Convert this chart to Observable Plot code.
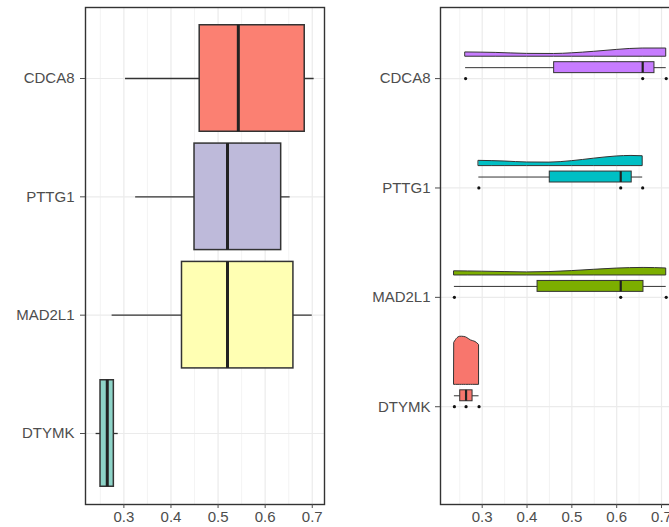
<!DOCTYPE html>
<html><head><meta charset="utf-8">
<script src="https://cdn.jsdelivr.net/npm/d3@7"></script>
<script src="https://cdn.jsdelivr.net/npm/@observablehq/plot@0.6"></script>
<style>
html,body{margin:0;padding:0;overflow:hidden;background:#fff;width:669px;height:527px;}
#wrap{position:relative;width:669px;height:527px;overflow:hidden;}
#left{position:absolute;left:0;top:0;width:340px;height:527px;}
#right{position:absolute;left:340px;top:0;width:345px;height:527px;}
#wrap svg{max-width:none !important;}
</style></head><body><div id="wrap"><div id="left"></div><div id="right"></div></div>
<script>
// ---- shared categories / ticks ----
const genes = ["CDCA8", "PTTG1", "MAD2L1", "DTYMK"];
const geneIndex = [4, 3, 2, 1];
const xTicks = [0.3, 0.4, 0.5, 0.6, 0.7];
const xMinorTicks = [0.25, 0.35, 0.45, 0.55, 0.65];

// ---- left panel: box summaries ----
const leftMin    = [0.3035, 0.325, 0.275, 0.241];
const leftQ1     = [0.461, 0.450, 0.4234, 0.2504];
const leftMedian = [0.543, 0.520, 0.520, 0.2647];
const leftQ3     = [0.684, 0.634, 0.660, 0.2787];
const leftMax    = [0.704, 0.653, 0.700, 0.288];
const leftFill   = ["#FB8072", "#BEBADA", "#FFFFB3", "#8DD3C7"];

// ---- right panel: raw points, violin profiles ----
const pointsCDCA8  = [0.263, 0.658, 0.7105];
const pointsPTTG1  = [0.2925, 0.609, 0.658];
const pointsMAD2L1 = [0.238, 0.609, 0.7105];
const pointsDTYMK  = [0.238, 0.264, 0.293];
const rightFill = ["#C77CFF", "#00BFC4", "#7CAE00", "#F8766D"];

const violinXCDCA8  = [0.263, 0.33, 0.40, 0.46, 0.50, 0.55, 0.60, 0.658, 0.7105];
const violinHCDCA8  = [0.039, 0.035, 0.026, 0.025, 0.031, 0.045, 0.062, 0.075, 0.075];
const violinXPTTG1  = [0.2925, 0.35, 0.40, 0.45, 0.50, 0.55, 0.60, 0.633, 0.658];
const violinHPTTG1  = [0.048, 0.042, 0.033, 0.032, 0.045, 0.068, 0.088, 0.093, 0.090];
const violinXMAD2L1 = [0.238, 0.30, 0.35, 0.40, 0.45, 0.50, 0.55, 0.60, 0.66, 0.7105];
const violinHMAD2L1 = [0.038, 0.035, 0.031, 0.028, 0.031, 0.040, 0.052, 0.063, 0.069, 0.064];
const violinXDTYMK  = [0.238, 0.245, 0.25, 0.255, 0.26, 0.264, 0.27, 0.275, 0.28, 0.285, 0.293];
const violinHDTYMK  = [0.387, 0.427, 0.439, 0.44, 0.438, 0.434, 0.419, 0.406, 0.399, 0.392, 0.365];

// ---- build tables ----
const font = "'Liberation Sans', Arial, Helvetica, sans-serif";
const labelOf = i => genes[geneIndex.indexOf(i)];
const BOX_HALF_LEFT = 0.45;
const NUDGE_BOX = 0.1, BOX_HALF = 0.05, NUDGE_VIOLIN = 0.2;

const leftData = genes.map((g, i) => ({
  gene: g, idx: geneIndex[i], min: leftMin[i], q1: leftQ1[i], median: leftMedian[i],
  q3: leftQ3[i], max: leftMax[i], fill: leftFill[i]
}));

const rightPoints = [pointsCDCA8, pointsPTTG1, pointsMAD2L1, pointsDTYMK];
const rightStats = genes.map((g, i) => {
  const p = rightPoints[i].slice().sort(d3.ascending);
  return {gene: g, idx: geneIndex[i], min: p[0], q1: d3.quantile(p, 0.25),
    median: d3.quantile(p, 0.5), q3: d3.quantile(p, 0.75), max: p[p.length - 1], fill: rightFill[i]};
});
const rightDots = genes.flatMap((g, i) => rightPoints[i].map(v => ({idx: geneIndex[i], v})));
const violinX = [violinXCDCA8, violinXPTTG1, violinXMAD2L1, violinXDTYMK];
const violinH = [violinHCDCA8, violinHPTTG1, violinHMAD2L1, violinHDTYMK];
const violinData = genes.flatMap((g, i) => violinX[i].map((x, j) => ({
  gene: g, idx: geneIndex[i], x, h: violinH[i][j], fill: rightFill[i]
})));

const gridMarks = () => [
  Plot.ruleX(xMinorTicks, {stroke: "#F0F0F0", strokeWidth: 0.8}),
  Plot.ruleX(xTicks, {stroke: "#EBEBEB", strokeWidth: 1.2}),
  Plot.ruleY(geneIndex, {stroke: "#EBEBEB", strokeWidth: 1.2})
];

const baseStyle = {fontFamily: font, fontSize: "15px", color: "#4D4D4D", background: "transparent",
  overflow: "visible", maxWidth: "none"};

const left = Plot.plot({
  width: 340, height: 527,
  marginLeft: 85, marginRight: 16, marginTop: 7, marginBottom: 23,
  style: baseStyle,
  x: {domain: [0.2185, 0.726]},
  y: {domain: [0.4, 4.6]},
  color: {type: "identity"},
  marks: [
    ...gridMarks(),
    Plot.ruleY(leftData, {y: "idx", x1: "min", x2: "max", stroke: "#333", strokeWidth: 1.3}),
    Plot.rect(leftData, {x1: "q1", x2: "q3", y1: d => d.idx - BOX_HALF_LEFT, y2: d => d.idx + BOX_HALF_LEFT,
      fill: "fill", stroke: "#333", strokeWidth: 1.5}),
    Plot.ruleX(leftData, {x: "median", y1: d => d.idx - BOX_HALF_LEFT, y2: d => d.idx + BOX_HALF_LEFT,
      stroke: "#222", strokeWidth: 3}),
    Plot.frame({stroke: "#333", strokeWidth: 1.4}),
    Plot.axisX({ticks: xTicks, tickSize: 4, tickPadding: 3, tickFormat: d3.format(".1f"), label: null}),
    Plot.axisY({ticks: geneIndex, tickSize: 5, tickPadding: 6, tickFormat: labelOf, label: null})
  ]
});
document.getElementById("left").appendChild(left);

const right = Plot.plot({
  width: 345, height: 527,
  marginLeft: 100, marginRight: 5.6, marginTop: 7, marginBottom: 23,
  style: baseStyle,
  x: {domain: [0.207, 0.741]},
  y: {domain: [0.106, 4.65]},
  color: {type: "identity"},
  marks: [
    ...gridMarks(),
    Plot.areaY(violinData, {x: "x", y1: d => d.idx + NUDGE_VIOLIN, y2: d => d.idx + NUDGE_VIOLIN + d.h,
      z: "gene", fill: "fill", stroke: "#333", strokeWidth: 1, curve: "monotone-x"}),
    Plot.ruleY(rightStats, {y: d => d.idx + NUDGE_BOX, x1: "min", x2: "max", stroke: "#333", strokeWidth: 1}),
    Plot.rect(rightStats, {x1: "q1", x2: "q3", y1: d => d.idx + NUDGE_BOX - BOX_HALF, y2: d => d.idx + NUDGE_BOX + BOX_HALF,
      fill: "fill", stroke: "#333", strokeWidth: 1}),
    Plot.ruleX(rightStats, {x: "median", y1: d => d.idx + NUDGE_BOX - BOX_HALF, y2: d => d.idx + NUDGE_BOX + BOX_HALF,
      stroke: "#222", strokeWidth: 2.2}),
    Plot.dot(rightDots, {x: "v", y: "idx", r: 1.6, fill: "#111", stroke: "none"}),
    Plot.frame({stroke: "#333", strokeWidth: 1.4}),
    Plot.axisX({ticks: xTicks, tickSize: 4, tickPadding: 3, tickFormat: d3.format(".1f"), label: null}),
    Plot.axisY({ticks: geneIndex, tickSize: 5, tickPadding: 5, tickFormat: labelOf, label: null})
  ]
});
document.getElementById("right").appendChild(right);
</script></body></html>
